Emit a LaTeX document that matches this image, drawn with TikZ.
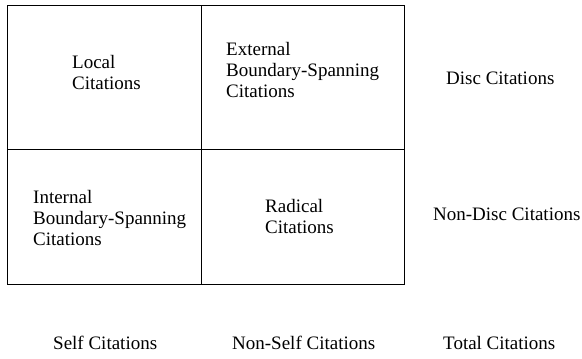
\documentclass[tikz,border=0pt]{standalone}
\usepackage{fontspec}
\setmainfont{Liberation Serif}
\begin{document}
\begin{tikzpicture}[x=1pt,y=-1pt,
  cell/.style={draw,line width=1.1pt,inner sep=0pt,anchor=north west},
  lbl/.style={anchor=west,align=left,inner sep=0pt,font=\fontsize{19}{21}\selectfont}]
\useasboundingbox (0,0) rectangle (582,359);
\node[cell,minimum width=194pt,minimum height=144pt] (c11) at (7,5) {};
\node[cell,minimum width=203pt,minimum height=144pt] (c12) at (201,5) {};
\node[cell,minimum width=194pt,minimum height=135pt] (c21) at (7,149) {};
\node[cell,minimum width=203pt,minimum height=135pt] (c22) at (201,149) {};
\node[lbl] (local) at (72,72.5) {Local\\Citations};
\node[lbl] (ext) at (226,70) {External\\Boundary-Spanning\\Citations};
\node[lbl] (int) at (33,218) {Internal\\Boundary-Spanning\\Citations};
\node[lbl] (rad) at (265,216) {Radical\\Citations};
\node[lbl] (disc) at (446,78) {Disc Citations};
\node[lbl] (ndisc) at (433,214) {Non-Disc Citations};
\node[lbl] (self) at (53,343) {Self Citations};
\node[lbl] (nself) at (232,343) {Non-Self Citations};
\node[lbl] (total) at (443,343) {Total Citations};
\end{tikzpicture}
\end{document}
